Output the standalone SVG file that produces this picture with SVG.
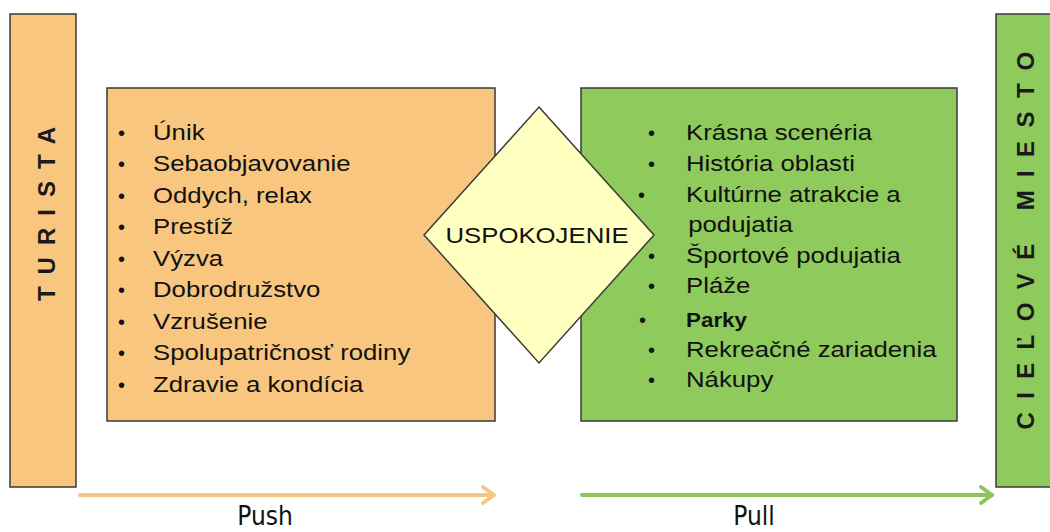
<svg xmlns="http://www.w3.org/2000/svg" width="1050" height="532" viewBox="0 0 1050 532">
<defs>
<style>
.box{stroke:#3a3a3a;stroke-width:1.5}
.or{fill:#f9c680}
.gr{fill:#8fca5c}
.t{font-family:"Liberation Sans",Arial,sans-serif;font-size:23px;fill:#111}
.b{font-family:"Liberation Sans",Arial,sans-serif;font-size:20px;fill:#111}
.v{font-family:"Liberation Sans",Arial,sans-serif;font-size:24px;font-weight:bold;fill:#1a1a1a}
.lbl{font-family:"Liberation Sans Narrow","DejaVu Sans Condensed","Liberation Sans",sans-serif;font-size:26px;fill:#111}
</style>
</defs>
<rect width="1050" height="532" fill="#ffffff"/>

<g id="turista">
<rect class="box or" x="10" y="14" width="66" height="473"/>
<text class="v" transform="translate(55,208) rotate(-90)" text-anchor="middle" letter-spacing="12">TURISTA</text>
</g>

<g id="cielove-miesto">
<rect class="box gr" x="996" y="14" width="60" height="473"/>
<text class="v" transform="translate(1034,234) rotate(-90)" text-anchor="middle" letter-spacing="13.4">CIEĽOVÉ MIESTO</text>
</g>

<g id="push-box">
<rect class="box or" x="107" y="88" width="388" height="333"/>
<g class="b">
<text x="118" y="140">•</text><text x="118" y="171">•</text><text x="118" y="203">•</text>
<text x="118" y="234">•</text><text x="118" y="266">•</text><text x="118" y="297">•</text>
<text x="118" y="329">•</text><text x="118" y="360">•</text><text x="118" y="392">•</text>
</g>
<g transform="translate(153,0) scale(1.12,1)" class="t">
<text x="0" y="140">Únik</text>
<text x="0" y="171">Sebaobjavovanie</text>
<text x="0" y="203">Oddych, relax</text>
<text x="0" y="234">Prestíž</text>
<text x="0" y="266">Výzva</text>
<text x="0" y="297">Dobrodružstvo</text>
<text x="0" y="329">Vzrušenie</text>
<text x="0" y="360">Spolupatričnosť rodiny</text>
<text x="0" y="392">Zdravie a kondícia</text>
</g>
</g>

<g id="pull-box">
<rect class="box gr" x="581" y="88" width="376" height="333"/>
<g class="b">
<text x="648" y="140">•</text><text x="648" y="171">•</text><text x="638" y="202">•</text>
<text x="648" y="263">•</text><text x="648" y="293">•</text><text x="639" y="327">•</text>
<text x="648" y="357">•</text><text x="648" y="387">•</text>
</g>
<g transform="translate(686,0) scale(1.12,1)" class="t">
<text x="0" y="140">Krásna scenéria</text>
<text x="0" y="171">História oblasti</text>
<text x="0" y="202">Kultúrne atrakcie a</text>
<text x="2" y="232">podujatia</text>
<text x="0" y="263">Športové podujatia</text>
<text x="0" y="293">Pláže</text>
<text x="0" y="327" font-size="20" font-weight="bold">Parky</text>
<text x="0" y="357">Rekreačné zariadenia</text>
<text x="0" y="387">Nákupy</text>
</g>
</g>

<g id="uspokojenie">
<polygon points="539,107 654,235 539,363 424,235" fill="#ffffbf" stroke="#3a3a3a" stroke-width="1.5"/>
<g transform="translate(537,0) scale(1.12,1)">
<text class="t" x="0" y="243" text-anchor="middle" font-size="22.5">USPOKOJENIE</text>
</g>
</g>

<g id="connectors" fill="none" stroke-width="4" stroke-linecap="round" stroke-linejoin="round">
<g id="push-arrow" stroke="#f5c683">
<line x1="80" y1="495" x2="494" y2="495"/>
<polyline points="483,487 494,495 483,503"/>
</g>
<g id="pull-arrow" stroke="#8cc65a">
<line x1="582" y1="495" x2="992" y2="495"/>
<polyline points="981,487 992,495 981,503"/>
</g>
</g>

<text class="lbl" x="265" y="525" text-anchor="middle">Push</text>
<text class="lbl" x="754" y="525" text-anchor="middle">Pull</text>
</svg>
